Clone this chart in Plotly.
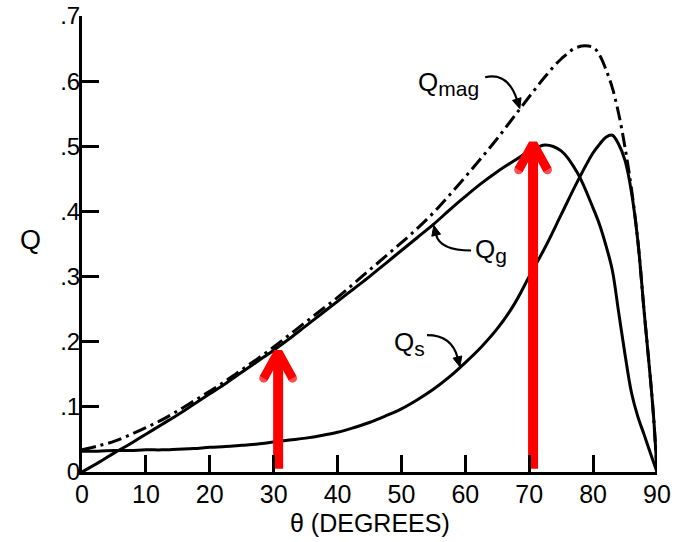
import plotly.graph_objects as go

# ---------------- data ----------------
theta = [0, 2.5, 5, 7.5, 10, 12.5, 15, 17.5, 20, 22.5, 25, 27.5, 30, 32.5, 35, 37.5, 40,
         42.5, 45, 47.5, 50, 52.5, 55, 57.5, 60, 62.5, 65, 67.5, 70, 72.5, 75, 77.5, 80,
         81, 82, 83, 84, 85, 86, 87, 88, 89, 89.5, 90]

q_s = [0.032, 0.032, 0.033, 0.033, 0.034, 0.034, 0.035, 0.036, 0.038, 0.039, 0.041, 0.043,
       0.046, 0.049, 0.052, 0.056, 0.061, 0.068, 0.076, 0.086, 0.097, 0.111, 0.127, 0.146,
       0.168, 0.192, 0.220, 0.255, 0.300, 0.345, 0.395, 0.445, 0.490,
       0.503, 0.514, 0.517, 0.503, 0.478, 0.430, 0.355, 0.245, 0.140, 0.080, 0.0]

q_g = [0.0, 0.014, 0.029, 0.043, 0.058, 0.073, 0.088, 0.104, 0.120, 0.136, 0.153, 0.170,
       0.187, 0.205, 0.224, 0.243, 0.262, 0.281, 0.300, 0.320, 0.340, 0.360, 0.380, 0.402,
       0.423, 0.443, 0.461, 0.477, 0.492, 0.502, 0.493, 0.460, 0.405,
       0.380, 0.348, 0.310, 0.245, 0.180, 0.122, 0.085, 0.057, 0.028, 0.014, 0.0]

q_mag = [0.034, 0.040, 0.047, 0.057, 0.068, 0.080, 0.094, 0.109, 0.124, 0.140, 0.157, 0.174,
         0.192, 0.211, 0.230, 0.249, 0.268, 0.289, 0.310, 0.331, 0.352, 0.374, 0.398, 0.425,
         0.453, 0.482, 0.512, 0.544, 0.576, 0.607, 0.634, 0.652, 0.652,
         0.640, 0.618, 0.590, 0.550, 0.498, 0.435, 0.355, 0.245, 0.140, 0.080, 0.0]

x_ticks = [0, 10, 20, 30, 40, 50, 60, 70, 80, 90]
x_tick_labels = ["0", "10", "20", "30", "40", "50", "60", "70", "80", "90"]
y_ticks = [0, 0.1, 0.2, 0.3, 0.4, 0.5, 0.6, 0.7]
y_tick_labels = ["0", ".1", ".2", ".3", ".4", ".5", ".6", ".7"]

# red arrows (annotation marks): x position and tip value
arrow_x = [30.7, 70.6]
arrow_tip = [0.200, 0.520]

FONT = "Liberation Sans, Arial, Helvetica, sans-serif"
BLACK = "#000000"
RED = "#ff0000"

fig = go.Figure()

fig.add_trace(go.Scatter(x=theta, y=q_mag, mode="lines",
                         line=dict(color=BLACK, width=3, dash="14px,5px,3px,5px",
                                   shape="spline", smoothing=1.0),
                         hoverinfo="skip"))
fig.add_trace(go.Scatter(x=theta, y=q_g, mode="lines",
                         line=dict(color=BLACK, width=3, shape="spline", smoothing=1.0),
                         hoverinfo="skip"))
fig.add_trace(go.Scatter(x=theta, y=q_s, mode="lines",
                         line=dict(color=BLACK, width=3, shape="spline", smoothing=1.0),
                         hoverinfo="skip"))

# red arrows
for ax, tip in zip(arrow_x, arrow_tip):
    vertex = tip - 0.016
    arm = vertex - 0.040
    fig.add_trace(go.Scatter(x=[ax, ax], y=[0.005, vertex], mode="lines",
                             line=dict(color=RED, width=10), hoverinfo="skip"))
    fig.add_trace(go.Scatter(x=[ax - 2.25, ax, ax + 2.25], y=[arm, vertex, arm],
                             mode="lines+markers",
                             line=dict(color=RED, width=9),
                             marker=dict(color=RED, size=[9, 0, 9], line=dict(width=0)),
                             hoverinfo="skip"))

# curved label arrows: (start, control, end) in data coords
PX_X = 6.39   # px per degree
PX_Y = 650.7  # px per unit Q


def curved_arrow(p0, c, p1):
    x0, y0 = p0
    cx, cy = c
    x1, y1 = p1
    path = f"M {x0},{y0} Q {cx},{cy} {x1},{y1}"
    fig.add_shape(type="path", path=path, xref="x", yref="y",
                  line=dict(color=BLACK, width=2.2))
    dx = (x1 - cx) * PX_X
    dy = (y1 - cy) * PX_Y
    n = (dx ** 2 + dy ** 2) ** 0.5
    ux, uy = dx / n, dy / n
    L, W = 9.0, 4.5
    tip = (x1 + ux * L / PX_X, y1 + uy * L / PX_Y)
    b1 = (x1 - ux * 1 / PX_X - uy * W / PX_X, y1 - uy * 1 / PX_Y + ux * W / PX_Y)
    b2 = (x1 - ux * 1 / PX_X + uy * W / PX_X, y1 - uy * 1 / PX_Y - ux * W / PX_Y)
    fig.add_shape(type="path",
                  path=f"M {tip[0]},{tip[1]} L {b1[0]},{b1[1]} L {b2[0]},{b2[1]} Z",
                  xref="x", yref="y", fillcolor=BLACK, line=dict(color=BLACK, width=1))


curved_arrow((63.1, 0.606), (66.7, 0.614), (68.1, 0.571))
curved_arrow((60.9, 0.340), (56.0, 0.340), (55.4, 0.365))
curved_arrow((54.0, 0.210), (57.9, 0.210), (58.8, 0.175))

SUB = "<sub><span style='font-size:21px'>{}</span></sub>"
labels = [("Q" + SUB.format("mag"), 57.4, 0.597),
          ("Q" + SUB.format("g"), 64.0, 0.340),
          ("Q" + SUB.format("s"), 51.3, 0.197)]
for txt, lx, ly in labels:
    fig.add_annotation(x=lx, y=ly, xref="x", yref="y", text=txt, showarrow=False,
                       font=dict(family=FONT, size=26, color=BLACK))

fig.add_annotation(x=0.5, y=-0.111, xref="paper", yref="paper", text="θ (DEGREES)",
                   showarrow=False, xanchor="center", yanchor="middle",
                   font=dict(family=FONT, size=25, color=BLACK))
fig.add_annotation(x=-0.089, y=0.508, xref="paper", yref="paper", text="Q",
                   showarrow=False, xanchor="center", yanchor="middle",
                   font=dict(family=FONT, size=27, color=BLACK))

axis_common = dict(showgrid=False, zeroline=False, showline=True, linecolor=BLACK,
                   linewidth=3, ticks="inside", tickcolor=BLACK, tickwidth=2.5,
                   ticklen=17, automargin=False)

fig.update_layout(
    width=675, height=542,
    margin=dict(l=82, r=18, t=16, b=70, pad=0),
    paper_bgcolor="white", plot_bgcolor="white",
    showlegend=False,
    xaxis=dict(range=[0, 90], tickvals=x_ticks, ticktext=x_tick_labels,
               ticklabelstandoff=-2,
               tickfont=dict(family=FONT, size=25, color=BLACK), **axis_common),
    yaxis=dict(range=[0, 0.7], tickvals=y_ticks, ticktext=y_tick_labels,
               ticklabelstandoff=-6,
               tickfont=dict(family=FONT, size=24, color=BLACK), **axis_common),
)

fig.write_html("out.html", config={"displayModeBar": False},
               post_script="document.body.style.margin='0px';")
